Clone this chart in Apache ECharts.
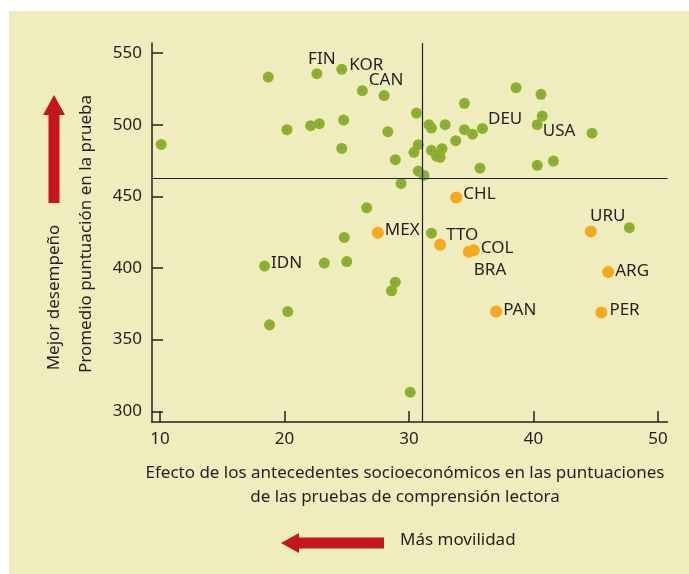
<!DOCTYPE html>
<html>
<head>
<meta charset="utf-8">
<script src="https://cdn.jsdelivr.net/npm/echarts@6/dist/echarts.min.js"></script>
<style>
  html, body { margin: 0; padding: 0; background: #ffffff; }
  #chart { width: 689px; height: 574px; }
</style>
</head>
<body>
<div id="chart"></div>
<script>
// OECD / other countries (green) - [effect, score]
const greenPoints = [
  [18.7, 533.2], [10.1, 486.2], [22.6, 535.6], [24.6, 538.6], [26.25, 523.7],
  [28.0, 520.3], [20.2, 496.5], [22.1, 499.3], [22.8, 500.7], [24.75, 503.2],
  [24.6, 483.4], [28.3, 495.1], [28.9, 475.6], [29.36, 459.0], [26.6, 442.0],
  [30.6, 508.1], [34.45, 514.9], [38.6, 525.8], [40.6, 521.2], [40.7, 506.0],
  [40.3, 500.0], [44.7, 494.1], [31.6, 500.0], [31.8, 497.6], [32.9, 500.0],
  [34.45, 496.5], [35.1, 493.4], [35.9, 497.4], [33.75, 488.8], [30.75, 486.0],
  [30.4, 480.7], [31.8, 482.1], [32.65, 483.2], [32.2, 478.1], [32.5, 477.2],
  [35.7, 469.7], [40.3, 471.6], [41.6, 474.6], [30.75, 467.6], [31.2, 464.6],
  [24.8, 421.3], [18.4, 401.3], [23.2, 403.4], [25.0, 404.5], [28.9, 390.1],
  [28.6, 384.1], [20.26, 369.6], [18.8, 360.3], [30.1, 313.3], [31.8, 424.3],
  [47.7, 428.1]
]
const greenNames = [
  '', '', 'FIN', 'KOR', '', 'CAN', '', '', '', '',
  '', '', '', '', '', '', '', '', '', '',
  'USA', '', '', '', '', '', '', 'DEU', '', '',
  '', '', '', '', '', '', '', '', '', '',
  '', 'IDN', '', '', '', '', '', '', '', '',
  ''
]

// Latin American countries (orange)
const orangeNames = ['CHL', 'MEX', 'TTO', 'BRA', 'COL', 'URU', 'ARG', 'PAN', 'PER']
const orangeX = [33.8, 27.5, 32.5, 34.8, 35.2, 44.6, 46.0, 37.0, 45.45]
const orangeY = [449.2, 424.6, 416.2, 411.3, 412.4, 425.5, 397.1, 369.6, 368.9]

// reference lines (averages)
const avgEffect = 31.1
const avgScore = 462.7

const xTicks = [10, 20, 30, 40, 50]
const yTicks = [300, 350, 400, 450, 500, 550]

const FONT = "'Noto Sans', sans-serif"
const TEXT = '#231f20'
const RED = '#c4161c'

// label placement per country: [position, dx, dy]
const labelLayout = {
  FIN: ['top', 5, 2],
  KOR: ['right', -1, -4],
  CAN: ['top', 2, 2],
  DEU: ['right', -3, -9],
  USA: ['right', -3, 6],
  IDN: ['right', -2, -3],
  CHL: ['right', -2, -3],
  MEX: ['right', -2, -3],
  TTO: ['right', -3, -10],
  COL: ['right', -2, -2],
  BRA: ['right', -4, 18],
  URU: ['top', 17, 2],
  ARG: ['right', -2, -1],
  PAN: ['right', -2, -1],
  PER: ['right', -1, -2]
}

const makeLabel = (name) => {
  const l = labelLayout[name]
  if (!name || !l) return { show: false }
  return {
    show: true,
    formatter: name,
    position: l[0],
    offset: [l[1], l[2]],
    distance: 3,
    color: TEXT,
    fontFamily: FONT,
    fontSize: 17
  }
}

const greenData = greenPoints.map((p, i) => ({
  value: p,
  label: makeLabel(greenNames[i])
}))
const orangeData = orangeNames.map((n, i) => ({
  value: [orangeX[i], orangeY[i]],
  label: makeLabel(n)
}))

const chart = echarts.init(document.getElementById('chart'), null, { renderer: 'canvas' })

const upArrow = [[43, 115], [54, 95], [65, 115], [59.5, 115], [59.5, 203], [48.5, 203], [48.5, 115]]
const leftArrow = [[281, 543], [299, 533], [299, 537.5], [384, 537.5], [384, 548.5], [299, 548.5], [299, 553]]

const option = {
  backgroundColor: '#ffffff',
  animation: false,
  grid: { left: 152, right: 21.5, top: 43, bottom: 152, containLabel: false },
  xAxis: {
    type: 'value',
    min: 9.36,
    max: 50.76,
    axisLine: { show: true, onZero: false, lineStyle: { color: TEXT, width: 1.5 } },
    axisTick: { show: true, inside: true, length: 11, customValues: xTicks, lineStyle: { color: TEXT, width: 1.5 } },
    axisLabel: { customValues: xTicks, color: TEXT, fontFamily: FONT, fontSize: 17, margin: 9 },
    splitLine: { show: false }
  },
  yAxis: {
    type: 'value',
    min: 292.5,
    max: 557,
    axisLine: { show: true, onZero: false, lineStyle: { color: TEXT, width: 1.5 } },
    axisTick: { show: true, inside: true, length: 11, customValues: yTicks, lineStyle: { color: TEXT, width: 1.5 } },
    axisLabel: { customValues: yTicks, color: TEXT, fontFamily: FONT, fontSize: 17, margin: 10 },
    splitLine: { show: false }
  },
  graphic: [
    { type: 'rect', z: -100, shape: { x: 9, y: 11, width: 680, height: 563 }, style: { fill: '#efecbd' } },
    { type: 'polygon', shape: { points: upArrow }, style: { fill: RED } },
    { type: 'polygon', shape: { points: leftArrow }, style: { fill: RED } },
    {
      type: 'text', x: 54, y: 297.5, rotation: Math.PI / 2,
      style: { text: 'Mejor desempeño', fill: TEXT, font: '17px ' + FONT, textAlign: 'center', textVerticalAlign: 'middle' }
    },
    {
      type: 'text', x: 86.5, y: 234, rotation: Math.PI / 2,
      style: { text: 'Promedio puntuación en la prueba', fill: TEXT, font: '17px ' + FONT, textAlign: 'center', textVerticalAlign: 'middle' }
    },
    {
      type: 'text', x: 405, y: 485,
      style: {
        text: 'Efecto de los antecedentes socioeconómicos en las puntuaciones\nde las pruebas de comprensión lectora',
        fill: TEXT, font: '17px ' + FONT, textAlign: 'center', textVerticalAlign: 'middle', lineHeight: 24
      }
    },
    {
      type: 'text', x: 400, y: 540,
      style: { text: 'Más movilidad', fill: TEXT, font: '17px ' + FONT, textAlign: 'left', textVerticalAlign: 'middle' }
    }
  ],
  series: [
    {
      name: 'green',
      type: 'scatter',
      data: greenData,
      symbolSize: 11,
      itemStyle: { color: '#8fb02b', opacity: 1 },
      z: 3,
      markLine: {
        silent: true,
        symbol: 'none',
        label: { show: false },
        lineStyle: { color: TEXT, width: 1.2, type: 'solid' },
        data: [{ xAxis: avgEffect }, { yAxis: avgScore }]
      }
    },
    {
      name: 'greenCenter',
      type: 'scatter',
      silent: true,
      data: greenPoints,
      symbolSize: 2,
      itemStyle: { color: '#4f8fd6' },
      z: 4
    },
    {
      name: 'orange',
      type: 'scatter',
      data: orangeData,
      symbolSize: 12,
      itemStyle: { color: '#f6a81f', opacity: 1 },
      z: 5
    }
  ]
}

chart.setOption(option)
</script>
</body>
</html>
